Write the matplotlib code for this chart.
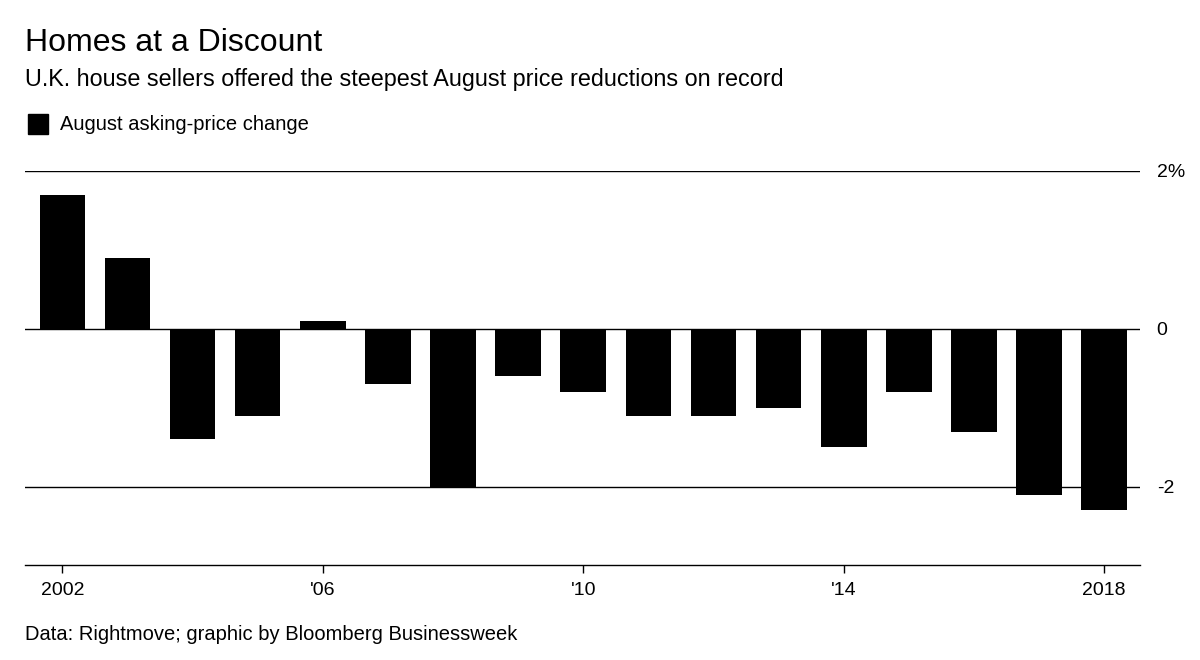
import matplotlib
matplotlib.use("Agg")
import matplotlib.pyplot as plt

years = list(range(2002, 2019))
values = [1.7, 0.9, -1.4, -1.1, 0.1, -0.7, -2.0, -0.6, -0.8, -1.1, -1.1, -1.0, -1.5, -0.8, -1.3, -2.1, -2.3]
xticks = [2002, 2006, 2010, 2014, 2018]
xticklabels = ["2002", "'06", "'10", "'14", "2018"]
yticks = [-2, 0, 2]
yticklabels = ["-2", "0", "2%"]

plt.rcParams['font.family'] = ['Liberation Sans', 'DejaVu Sans']
fig = plt.figure(figsize=(12, 6.6), dpi=100)
ax = fig.add_axes([0.021, 0.144, 0.929, 0.597])
for y in yticks:
    ax.axhline(y, color='black', lw=1.0, zorder=1)
ax.bar(years, values, width=0.7, color='black', zorder=2)
ax.set_xlim(2001.43, 2018.55)
ax.set_ylim(-2.99, 2.0)
ax.yaxis.tick_right()
ax.set_yticks(yticks)
ax.set_yticklabels(yticklabels, fontsize=14)
ax.tick_params(axis='y', length=0, pad=12)
ax.set_xticks(xticks)
ax.set_xticklabels(xticklabels, fontsize=14)
ax.tick_params(axis='x', length=6, width=1, pad=6)
for s in ['top', 'left', 'right']:
    ax.spines[s].set_visible(False)
ax.spines['bottom'].set_linewidth(1.0)

fig.text(0.021, 0.935, "Homes at a Discount", fontsize=23, va='center')
fig.text(0.021, 0.88, "U.K. house sellers offered the steepest August price reductions on record", fontsize=16.8, va='center')
fig.patches.append(plt.Rectangle((0.023, 0.797), 0.017, 0.03, color='black', transform=fig.transFigure, figure=fig))
fig.text(0.05, 0.812, "August asking-price change", fontsize=14.5, va='center')
fig.text(0.021, 0.038, "Data: Rightmove; graphic by Bloomberg Businessweek", fontsize=14.5, va='center')
fig.savefig("out.png", dpi=100)
